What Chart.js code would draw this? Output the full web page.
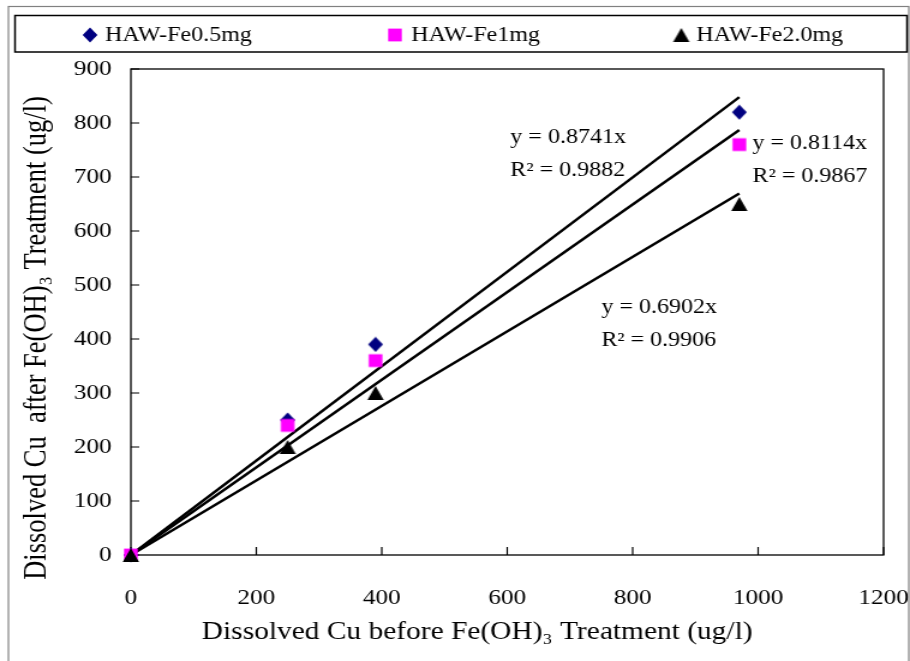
<!DOCTYPE html>
<html><head><meta charset="utf-8">
<script src="https://cdn.jsdelivr.net/npm/chart.js@4/dist/chart.umd.min.js"></script>
<style>
html,body{margin:0;padding:0;background:#fff;overflow:hidden;}
#wrap{width:758px;height:661px;transform:scaleX(1.2005);transform-origin:0 0;}
canvas{display:block;}
</style></head><body>
<div id="wrap"><canvas id="c" width="758" height="661"></canvas></div>
<script>
// ---- data ----
const seriesNames = ['HAW-Fe0.5mg', 'HAW-Fe1mg', 'HAW-Fe2.0mg'];
const cuBefore    = [0, 250, 390, 970];
const cuAfterFe05 = [0, 250, 390, 820];
const cuAfterFe1  = [0, 240, 360, 760];
const cuAfterFe2  = [0, 200, 300, 650];
const trendSlopes = [0.8741, 0.8114, 0.6902];
const rSquared    = [0.9882, 0.9867, 0.9906];
const xTickValues = [0, 200, 400, 600, 800, 1000, 1200];
const yTickValues = [0, 100, 200, 300, 400, 500, 600, 700, 800, 900];
const xTitle = 'Dissolved Cu before Fe(OH)\u2083 Treatment (ug/l)';
const yTitle = 'Dissolved Cu  after Fe(OH)\u2083 Treatment (ug/l)';

// ---- styling / placement ----
const FONT = '"Liberation Serif", "Times New Roman", serif';
const colors = ['#000080', '#ff00ff', '#000000'];
const shapes = ['diamond', 'square', 'triangle'];
// label anchors in data coordinates (left edge, vertical centre)
const eqAnchors = [[605, 772], [991, 762], [750, 457]];
const legendSlots = [[75, 87.5], [329, 342.5], [567.5, 580]];

function makeMarker(shape, color) {
  const c = document.createElement('canvas');
  c.width = 16; c.height = 16;
  const g = c.getContext('2d');
  g.fillStyle = color;
  g.beginPath();
  if (shape === 'diamond') { g.moveTo(8, 0.5); g.lineTo(14.2, 8); g.lineTo(8, 15.5); g.lineTo(1.8, 8); }
  else if (shape === 'square') { g.rect(2.3, 1.6, 11.4, 12.8); }
  else { g.moveTo(8, 1); g.lineTo(14.8, 15); g.lineTo(1.2, 15); }
  g.closePath(); g.fill();
  return c;
}
const markers = shapes.map((s, i) => makeMarker(s, colors[i]));
const seriesValues = [cuAfterFe05, cuAfterFe1, cuAfterFe2];

const pointSets = seriesValues.map((vals, i) => ({
  label: seriesNames[i],
  data: cuBefore.map((x, k) => ({x: x, y: vals[k]})),
  pointStyle: markers[i],
  showLine: false,
  clip: false,
  order: 3 - i
}));
const xEnd = Math.max(...cuBefore);
const trendSets = trendSlopes.map((m, i) => ({
  label: 'trend ' + seriesNames[i],
  data: [{x: 0, y: 0}, {x: xEnd, y: m * xEnd}],
  showLine: true,
  borderColor: '#000',
  borderWidth: 2.4,
  pointRadius: 0,
  fill: false,
  clip: false,
  order: 10
}));

const decor = {
  id: 'decor',
  beforeDatasetsDraw(chart) {
    const {ctx, chartArea: a, scales: {x, y}} = chart;
    ctx.save();
    ctx.strokeStyle = '#000'; ctx.lineWidth = 1.3;
    ctx.strokeRect(a.left, a.top, a.right - a.left, a.bottom - a.top);
    ctx.lineWidth = 1.2;
    ctx.beginPath();
    yTickValues.forEach(v => { const py = y.getPixelForValue(v); ctx.moveTo(a.left, py); ctx.lineTo(a.left + 7, py); });
    xTickValues.forEach(v => { const px = x.getPixelForValue(v); ctx.moveTo(px, a.bottom); ctx.lineTo(px, a.bottom - 8); });
    ctx.stroke();
    ctx.restore();
  },
  afterDraw(chart) {
    const {ctx, scales: {x, y}} = chart;
    ctx.save();
    // outer frame
    ctx.strokeStyle = '#808080'; ctx.lineWidth = 1.2;
    ctx.strokeRect(7, 6.5, 750, 700);
    // legend box
    ctx.strokeStyle = '#000'; ctx.lineWidth = 1.5;
    ctx.strokeRect(12.5, 15.5, 743, 36.5);
    ctx.fillStyle = '#000';
    ctx.font = '20px ' + FONT;
    ctx.textBaseline = 'middle'; ctx.textAlign = 'left';
    seriesNames.forEach((n, i) => {
      const [mx, tx] = legendSlots[i];
      ctx.drawImage(markers[i], mx - 8, 35 - 8);
      ctx.fillText(n, tx, 36);
    });
    // trend equations
    ctx.font = '20px ' + FONT;
    trendSlopes.forEach((m, i) => {
      const [dx, dy] = eqAnchors[i];
      const px = x.getPixelForValue(dx);
      ctx.fillText('y = ' + m.toFixed(4) + 'x', px, y.getPixelForValue(dy));
      ctx.fillText('R\u00B2 = ' + rSquared[i].toFixed(4), px, y.getPixelForValue(dy - 61));
    });
    // axis titles
    ctx.textAlign = 'center';
    ctx.font = '24.5px ' + FONT;
    ctx.fillText(xTitle, 397.5, 633);
    ctx.save();
    ctx.translate(31.5, 338);
    ctx.rotate(-Math.PI / 2);
    ctx.font = '26.5px ' + FONT;
    ctx.fillText(yTitle, 0, 0);
    ctx.restore();
    ctx.restore();
  }
};

new Chart(document.getElementById('c'), {
  type: 'scatter',
  data: {datasets: [...pointSets, ...trendSets]},
  options: {
    responsive: false,
    animation: false,
    devicePixelRatio: 1,
    layout: {padding: {top: 69, right: 22, left: 0, bottom: 0}},
    plugins: {legend: {display: false}, tooltip: {enabled: false}},
    scales: {
      x: {
        type: 'linear',
        min: xTickValues[0], max: xTickValues[xTickValues.length - 1],
        ticks: {stepSize: xTickValues[1] - xTickValues[0], color: '#000', font: {family: FONT, size: 21}, padding: 31, maxRotation: 0,
                callback: v => String(v)},
        grid: {display: true, drawOnChartArea: false, drawTicks: false},
        border: {display: false},
        afterFit(s) { s.height = 106; s.paddingLeft = 0; s.paddingRight = 0; }
      },
      y: {
        type: 'linear',
        min: yTickValues[0], max: yTickValues[yTickValues.length - 1],
        ticks: {stepSize: yTickValues[1] - yTickValues[0], color: '#000', font: {family: FONT, size: 21}, padding: 16,
                callback: v => String(v)},
        grid: {display: true, drawOnChartArea: false, drawTicks: false},
        border: {display: false},
        afterFit(s) { s.width = 109; s.paddingTop = 0; s.paddingBottom = 0; }
      }
    }
  },
  plugins: [decor]
});
</script>
</body></html>
